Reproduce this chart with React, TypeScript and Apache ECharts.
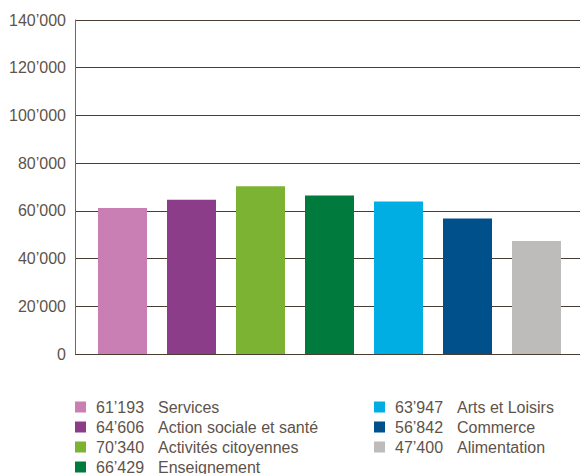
import React, { useEffect, useRef } from "react";
import * as echarts from "echarts";

const categories = [
  "Services",
  "Action sociale et santé",
  "Activités citoyennes",
  "Enseignement",
  "Arts et Loisirs",
  "Commerce",
  "Alimentation",
];
const values = [61193, 64606, 70340, 66429, 63947, 56842, 47400];
const colors = ["#c97fb3", "#8b3d8a", "#7db332", "#007a3d", "#00aee3", "#00508b", "#bdbcbb"];
const yTicks = [0, 20000, 40000, 60000, 80000, 100000, 120000, 140000];

const fmt = (v: number) => {
  if (v < 1000) return String(v);
  const s = String(v);
  return s.slice(0, s.length - 3) + "\u2019" + s.slice(s.length - 3);
};

const FONT = "'Liberation Sans', Arial, sans-serif";
const TXT = "#5e534a";

export default function App() {
  const ref = useRef<HTMLDivElement>(null);
  useEffect(() => {
    if (!ref.current) return;
    const chart = echarts.init(ref.current, undefined, { renderer: "svg" });
    const series = categories.map((name, i) => ({
      name,
      type: "bar",
      xAxisIndex: 1,
      yAxisIndex: 1,
      barWidth: 49,
      barGap: "-100%",
      itemStyle: { color: colors[i] },
      data: categories.map((_, j) => (j === i ? values[i] : null)),
    }));
    const legendCommon = {
      orient: "vertical",
      top: 399,
      height: 120,
      padding: 0,
      itemWidth: 11,
      itemHeight: 11,
      itemGap: 4,
      icon: "rect",
      selectedMode: false,
      textStyle: {
        fontFamily: FONT,
        fontSize: 16,
        color: TXT,
        padding: [0, 0, 0, 5],
        rich: {
          v: { width: 62, fontFamily: FONT, fontSize: 16, color: TXT },
          n: { fontFamily: FONT, fontSize: 16, color: TXT },
        },
      },
      formatter: (name: string) => {
        const i = categories.indexOf(name);
        return `{v|${fmt(values[i])}}{n|${name}}`;
      },
    };
    chart.setOption({
      animation: false,
      grid: [
        { left: 75, right: 0, top: 20, height: 334 },
        { left: 88, width: 483, top: 20, height: 334 },
      ],
      xAxis: [
        { gridIndex: 0, type: "value", min: 0, max: 1, show: false },
        {
          gridIndex: 1,
          type: "category",
          data: categories,
          axisLine: { show: false },
          axisTick: { show: false },
          axisLabel: { show: false },
        },
      ],
      yAxis: [
        {
          gridIndex: 0,
          type: "value",
          min: yTicks[0],
          max: yTicks[yTicks.length - 1],
          interval: 20000,
          axisLine: { show: true, lineStyle: { color: "#6f6963", width: 1 } },
          axisTick: { show: false },
          axisLabel: {
            margin: 9,
            fontFamily: FONT,
            fontSize: 16,
            color: TXT,
            formatter: (v: number) => fmt(v),
          },
          splitLine: { show: true, lineStyle: { color: "#4a3d32", width: 1 } },
        },
        {
          gridIndex: 1,
          type: "value",
          min: yTicks[0],
          max: yTicks[yTicks.length - 1],
          interval: 20000,
          show: false,
        },
      ],
      legend: [
        { ...legendCommon, left: 75, data: categories.slice(0, 4) },
        { ...legendCommon, left: 374, data: categories.slice(4) },
      ],
      series,
    });
    return () => chart.dispose();
  }, []);
  return <div ref={ref} style={{ width: 580, height: 474, position: "absolute", left: 0, top: 0 }} />;
}
